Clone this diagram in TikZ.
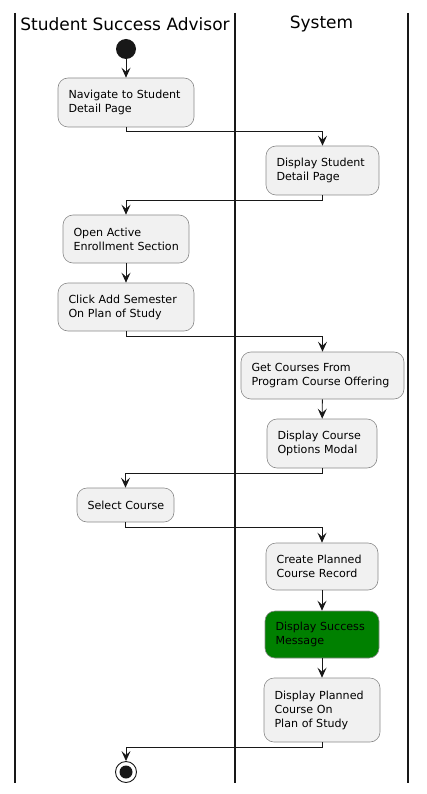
\documentclass[tikz,border=0pt]{standalone}
\usepackage{fontspec}
\setmainfont{DejaVu Sans}
\usetikzlibrary{arrows.meta}
\definecolor{actfill}{HTML}{F1F1F1}
\definecolor{actline}{HTML}{8A8A8A}
\definecolor{ink}{HTML}{181818}
\definecolor{okgreen}{HTML}{008000}
\begin{document}
\begin{tikzpicture}[x=1pt,y=-1pt,
  act/.style={draw=actline, line width=0.6pt, fill=actfill, rounded corners=10pt,
    align=left, inner xsep=10.5pt, inner ysep=0pt,
    font=\fontsize{11.1}{14}\selectfont, text=black},
  lane/.style={draw=ink, line width=1.4pt},
  conn/.style={draw=ink, line width=0.9pt, -{Stealth[length=10pt,width=9pt,inset=4pt]}},
  lanetitle/.style={font=\fontsize{17}{20}\selectfont, text=black}
]
\useasboundingbox (0,0) rectangle (427,794);
% swimlanes
\draw[lane] (15,13) -- (15,783);
\draw[lane] (235,13) -- (235,783);
\draw[lane] (408,13) -- (408,783);
\node[lanetitle] (t1) at (125,24) {Student Success Advisor};
\node[lanetitle] (t2) at (321.5,24) {System};
% start
\node[circle, fill=ink, minimum size=20pt, inner sep=0pt] (start) at (126,49) {};
% activities
\node[act, text width=115pt, minimum height=49pt] (b1) at (126,102.5) {\mbox{Navigate to Student}\\\mbox{Detail Page}};
\node[act, text width=92pt, minimum height=49pt] (b2) at (322.5,170.5) {\mbox{Display Student}\\\mbox{Detail Page}};
\node[act, text width=105pt, minimum height=48pt] (b3) at (126,239) {\mbox{Open Active}\\\mbox{Enrollment Section}};
\node[act, text width=115pt, minimum height=48pt] (b4) at (126,307) {\mbox{Click Add Semester}\\\mbox{On Plan of Study}};
\node[act, text width=142pt, minimum height=47pt] (b5) at (322.5,375.5) {\mbox{Get Courses From}\\\mbox{Program Course Offering}};
\node[act, text width=89pt, minimum height=49pt] (b6) at (322,443.5) {\mbox{Display Course}\\\mbox{Options Modal}};
\node[act, text width=76pt, minimum height=34pt] (b7) at (125.5,505) {\mbox{Select Course}};
\node[act, text width=91pt, minimum height=47pt] (b8) at (322,566.5) {\mbox{Create Planned}\\\mbox{Course Record}};
\node[act, fill=okgreen, text width=93pt, minimum height=47pt] (b9) at (322,634.5) {\mbox{Display Success}\\\mbox{Message}};
\node[act, text width=95pt, minimum height=64pt] (b10) at (322,710) {\mbox{Display Planned}\\\mbox{Course On}\\\mbox{Plan of Study}};
% end
\node[circle, draw=ink, line width=0.9pt, fill=white, minimum size=21pt, inner sep=0pt] (stop) at (126,772) {};
\node[circle, fill=ink, minimum size=13pt, inner sep=0pt] (stopdot) at (stop.center) {};
% connectors
\draw[conn] (start) -- (b1);
\draw[conn] (b1.south) -- ++(0,4) -| (b2.north);
\draw[conn] (b2.south) -- ++(0,5) -| (b3.north);
\draw[conn] (b3) -- (b4);
\draw[conn] (b4.south) -- ++(0,5) -| (b5.north);
\draw[conn] (b5) -- (b6);
\draw[conn] (b6.south) -- ++(0,5) -| (b7.north);
\draw[conn] (b7.south) -- ++(0,5) -| (b8.north);
\draw[conn] (b8) -- (b9);
\draw[conn] (b9) -- (b10);
\draw[conn] (b10.south) -- ++(0,5) -| (stop.north);
\end{tikzpicture}
\end{document}
